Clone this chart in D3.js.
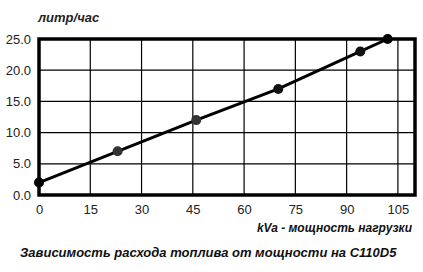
<!DOCTYPE html>
<html><head><meta charset="utf-8">
<script src="https://cdn.jsdelivr.net/npm/d3@7"></script>
<style>body{margin:0;background:#fff}svg{display:block}</style>
</head><body>
<script>
const loadKVA = [0, 23, 46, 70, 94, 102];
const fuelLph = [2, 7, 12, 17, 23, 25];
const pointColors = ["#000", "#333", "#333", "#111", "#111", "#000"];
const xTicks = [0, 15, 30, 45, 60, 75, 90, 105];
const yTicks = [0, 5, 10, 15, 20, 25];
const yLabel = "литр/час";
const xLabel = "kVa - мощность нагрузки";
const title = "Зависимость расхода топлива от мощности на C110D5";

const W = 423, H = 272;
const svg = d3.select("body").append("svg").attr("width", W).attr("height", H);
const L = 39, R = 415, T = 39, B = 195;
const x = d3.scaleLinear().domain([0, 110]).range([L, R]);
const y = d3.scaleLinear().domain([0, 25]).range([B, T]);

// grid
svg.append("g").selectAll("line").data(xTicks.filter(d => d > 0)).join("line")
  .attr("x1", d => x(d)).attr("x2", d => x(d)).attr("y1", T).attr("y2", B)
  .attr("stroke", "#000").attr("stroke-width", 1.2);
svg.append("g").selectAll("line").data(yTicks.filter(d => d > 0 && d < 25)).join("line")
  .attr("x1", L).attr("x2", R).attr("y1", d => y(d)).attr("y2", d => y(d))
  .attr("stroke", "#000").attr("stroke-width", 1.2);

// frame
svg.append("rect").attr("x", L).attr("y", T).attr("width", R - L).attr("height", B - T)
  .attr("fill", "none").attr("stroke", "#000").attr("stroke-width", 3.5);

// axes labels
const yAxis = d3.axisLeft(y).tickValues(yTicks).tickFormat(d3.format(".1f")).tickSize(0).tickPadding(8);
const gy = svg.append("g").attr("transform", `translate(${L},0)`).call(yAxis);
const xAxis = d3.axisBottom(x).tickValues(xTicks).tickFormat(d3.format("d")).tickSize(0).tickPadding(10);
const gx = svg.append("g").attr("transform", `translate(0,${B})`).call(xAxis);
[gy, gx].forEach(g => {
  g.select(".domain").remove();
  g.selectAll("text").attr("font-family", "Liberation Sans, Arial, sans-serif")
    .attr("font-size", 13).attr("fill", "#222");
});

// line
const line = d3.line().x((d, i) => x(loadKVA[i])).y(d => y(d));
svg.append("path").datum(fuelLph).attr("d", line)
  .attr("fill", "none").attr("stroke", "#000").attr("stroke-width", 3);
svg.append("g").selectAll("circle").data(fuelLph).join("circle")
  .attr("cx", (d, i) => x(loadKVA[i])).attr("cy", d => y(d)).attr("r", 5)
  .attr("fill", (d, i) => pointColors[i]);

const fontI = "Liberation Sans, Arial, sans-serif";
svg.append("text").attr("x", 38).attr("y", 22).text(yLabel)
  .attr("font-family", fontI).attr("font-style", "italic").attr("font-weight", "bold")
  .attr("font-size", 13).attr("fill", "#222");
svg.append("text").attr("x", 412).attr("y", 232).attr("text-anchor", "end").text(xLabel)
  .attr("font-family", fontI).attr("font-style", "italic").attr("font-weight", "bold")
  .attr("font-size", 12).attr("fill", "#111");
svg.append("text").attr("x", 20).attr("y", 257).text(title)
  .attr("font-family", fontI).attr("font-style", "italic").attr("font-weight", "bold")
  .attr("font-size", 13).attr("fill", "#111");
</script>
</body></html>
